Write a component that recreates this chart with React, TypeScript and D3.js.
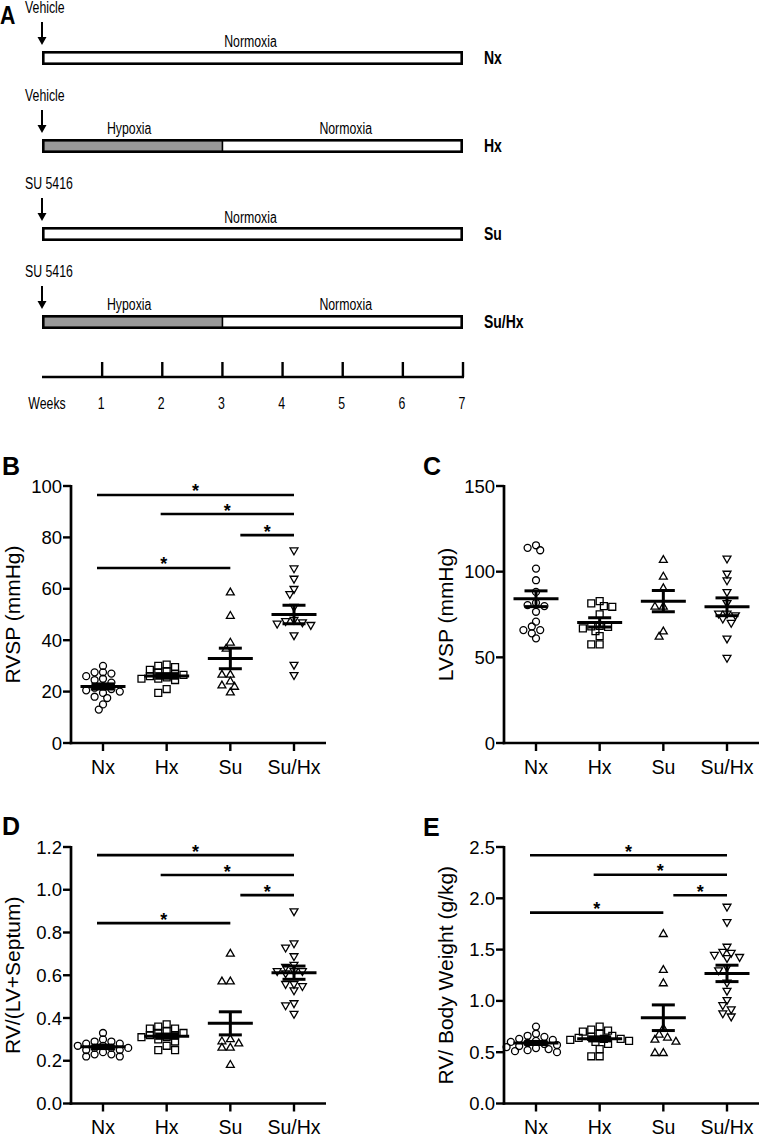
import React from "react";
import * as d3 from "d3";

const FONT = "'Liberation Sans', Arial, Helvetica, sans-serif";

// ---------------- Panel A: protocol ----------------
const totalWeeks = 7;
const weekTicks = [1, 2, 3, 4, 5, 6, 7];
const protocolTreatments = ["Vehicle", "Vehicle", "SU 5416", "SU 5416"];
const protocolGroups = ["Nx", "Hx", "Su", "Su/Hx"];
const protocolHypoxiaWeeks = [0, 3, 0, 3];

// ---------------- Scatter panels ----------------
const groups = ["Nx", "Hx", "Su", "Su/Hx"];

// B: RVSP (mmHg)
const rvspNx = [30, 27.5, 27, 27.5, 26, 25, 24.5, 23.5, 22, 21.5, 21, 20, 19.5, 18, 17.5, 15, 13, 20.5];
const rvspHx = [30.5, 30, 29.5, 28.5, 28, 27.5, 27, 26.5, 26, 25.5, 25, 25, 24.5, 21, 19.5];
const rvspSu = [58.5, 49.4, 39, 36.6, 26.5, 26.5, 23.9, 22.3, 21.8, 19.6];
const rvspSuHx = [75, 68, 64, 60, 58, 53, 48, 47.5, 46.5, 46, 47, 42, 30.5, 26.5];
const rvspMean = [22.0, 26.1, 32.9, 50.0];
const rvspSem = [1.0, 0.9, 4.0, 3.6];
const rvspTicks = [0, 20, 40, 60, 80, 100];
const rvspSig = [[0, 3, 96.5], [1, 3, 89.1], [2, 3, 80.9], [0, 2, 68.1]];

// C: LVSP (mmHg)
const lvspNx = [113.9, 112.5, 115.4, 101.8, 95, 88.2, 80.5, 79.9, 81.8, 76.6, 70.8, 65.9, 68, 64, 65.9, 61.1];
const lvspHx = [82.8, 81.5, 79.9, 79.5, 75.1, 68.3, 68, 66.9, 65.3, 67.8, 62.4, 57.6, 57.6];
const lvspSu = [106.7, 97, 90.2, 79.5, 79.5, 62, 65];
const lvspSuHx = [107.7, 98.9, 95, 88.2, 81.8, 75.6, 74.6, 75.6, 70.2, 72.7, 61.1, 49.8];
const lvspMean = [84.2, 70.4, 82.8, 79.5];
const lvspSem = [4.6, 2.7, 6.2, 5.2];
const lvspTicks = [0, 50, 100, 150];
const lvspSig: number[][] = [];

// D: RV/(LV+Septum)
const fultonNx = [0.33, 0.30, 0.29, 0.29, 0.28, 0.28, 0.27, 0.27, 0.26, 0.26, 0.26, 0.25, 0.25, 0.24, 0.23, 0.23, 0.22, 0.22];
const fultonHx = [0.37, 0.36, 0.35, 0.35, 0.34, 0.33, 0.33, 0.32, 0.32, 0.31, 0.31, 0.30, 0.29, 0.27, 0.25, 0.25];
const fultonSu = [0.70, 0.57, 0.57, 0.30, 0.29, 0.28, 0.26, 0.26, 0.18];
const fultonSuHx = [0.90, 0.75, 0.73, 0.69, 0.65, 0.64, 0.62, 0.62, 0.62, 0.61, 0.56, 0.56, 0.55, 0.53, 0.47, 0.46, 0.42];
const fultonMean = [0.265, 0.315, 0.375, 0.612];
const fultonSem = [0.008, 0.01, 0.054, 0.031];
const fultonTicks = [0, 0.2, 0.4, 0.6, 0.8, 1.0, 1.2];
const fultonSig = [[0, 3, 1.162], [1, 3, 1.069], [2, 3, 0.975], [0, 2, 0.844]];

// E: RV / Body Weight (g/kg)
const rvbwNx = [0.75, 0.68, 0.66, 0.65, 0.63, 0.62, 0.61, 0.60, 0.59, 0.58, 0.57, 0.56, 0.55, 0.54, 0.53, 0.52, 0.51, 0.50];
const rvbwHx = [0.75, 0.72, 0.71, 0.70, 0.68, 0.66, 0.65, 0.64, 0.63, 0.63, 0.62, 0.61, 0.60, 0.58, 0.53, 0.46, 0.46];
const rvbwSu = [1.65, 1.30, 1.17, 0.73, 0.67, 0.64, 0.62, 0.60, 0.49, 0.49];
const rvbwSuHx = [1.92, 1.77, 1.53, 1.48, 1.47, 1.45, 1.43, 1.42, 1.33, 1.30, 1.18, 1.10, 1.01, 0.96, 0.92, 0.88, 0.85];
const rvbwMean = [0.59, 0.63, 0.836, 1.268];
const rvbwSem = [0.015, 0.02, 0.125, 0.08];
const rvbwTicks = [0, 0.5, 1.0, 1.5, 2.0, 2.5];
const rvbwSig = [[0, 3, 2.42], [1, 3, 2.23], [2, 3, 2.03], [0, 2, 1.86]];

// ---------------- helpers ----------------
function Narrow({ x, y, children, size = 16, weight = "normal", anchor = "start", sx = 0.77 }: any) {
  return (
    <text
      transform={`translate(${x},${y}) scale(${sx},1)`}
      fontSize={size}
      fontWeight={weight}
      textAnchor={anchor}
      dominantBaseline="central"
      fontFamily={FONT}
      fill="#000"
    >
      {children}
    </text>
  );
}

function ProtocolPanel() {
  const xW = d3.scaleLinear().domain([0, totalWeeks]).range([42, 463]);
  const rowY = (i: number) => 51 + 88 * i;
  const barH = 14;
  const sw = 2.6;
  return (
    <g>
      <Narrow x={0} y={15} size={26} weight="bold" sx={0.82}>A</Narrow>
      {protocolGroups.map((g, i) => {
        const top = rowY(i);
        const hyp = protocolHypoxiaWeeks[i];
        const ax = xW(0);
        return (
          <g key={g}>
            <Narrow x={25} y={top - 43.5}>{protocolTreatments[i]}</Narrow>
            <line x1={ax} x2={ax} y1={top - 29} y2={top - 13} stroke="#000" strokeWidth={2} />
            <path d={`M${ax - 4.5},${top - 14}L${ax + 4.5},${top - 14}L${ax},${top - 6}Z`} fill="#000" />
            {hyp > 0 && (
              <rect x={xW(0)} y={top + sw / 2} width={xW(hyp) - xW(0)} height={barH - sw} fill="#999" />
            )}
            <rect
              x={xW(0) + sw / 2}
              y={top + sw / 2}
              width={xW(totalWeeks) - xW(0) - sw}
              height={barH - sw}
              fill="none"
              stroke="#000"
              strokeWidth={sw}
            />
            {hyp > 0 && (
              <line x1={xW(hyp)} x2={xW(hyp)} y1={top + 1} y2={top + barH - 1} stroke="#000" strokeWidth={1.6} />
            )}
            {hyp > 0 ? (
              <>
                <Narrow x={(xW(0) + xW(hyp)) / 2 - 3} y={top - 11} anchor="middle">Hypoxia</Narrow>
                <Narrow x={(xW(hyp) + xW(totalWeeks)) / 2 + 3} y={top - 11} anchor="middle">Normoxia</Narrow>
              </>
            ) : (
              <Narrow x={(xW(0) + xW(totalWeeks)) / 2 - 2} y={top - 10} anchor="middle">Normoxia</Narrow>
            )}
            <Narrow x={484} y={top + 7} size={17.5} weight="bold" sx={0.8}>{g}</Narrow>
          </g>
        );
      })}
      <line x1={xW(0)} x2={xW(totalWeeks) + 1} y1={377} y2={377} stroke="#000" strokeWidth={2.6} />
      {weekTicks.map((w) => (
        <g key={w}>
          <line x1={xW(w)} x2={xW(w)} y1={362} y2={377} stroke="#000" strokeWidth={2.4} />
          <Narrow x={xW(w) - 1} y={403} anchor="middle">{w}</Narrow>
        </g>
      ))}
      <Narrow x={47} y={403} anchor="middle">Weeks</Narrow>
    </g>
  );
}

const symbolPaths = [
  d3.symbol(d3.symbolCircle, 38)() as string,
  d3.symbol(d3.symbolSquare, 48)() as string,
  d3.symbol(d3.symbolTriangle, 27)() as string,
  d3.symbol(d3.symbolTriangle, 27)() as string,
];

function swarm(values: number[], cx: number, y: (v: number) => number) {
  const step = 4.2;
  const minDist = 6.2;
  const placed: { x: number; y: number }[] = [];
  const order = [...values].sort((a, b) => b - a);
  for (const v of order) {
    const py = y(v);
    for (let k = 0; k < 60; k++) {
      const off = (k % 2 === 0 ? 1 : -1) * Math.ceil(k / 2) * step;
      const px = cx + off;
      const ok = placed.every((p) => Math.hypot(p.x - px, p.y - py) >= minDist);
      if (ok) {
        placed.push({ x: px, y: py });
        break;
      }
    }
  }
  return placed;
}

function Scatter({ x0, y0, yTop, ticks, fmt, title, letter, letterX, letterY, series, means, sems, sig }: any) {
  const max = ticks[ticks.length - 1];
  const y = d3.scaleLinear().domain([0, max]).range([y0, yTop]);
  const x = d3.scalePoint<string>().domain(groups).range([x0 + 32, x0 + 223]);
  const xEnd = x0 + 255;
  const f = d3.format(fmt);
  return (
    <g fontFamily={FONT}>
      <text x={letterX} y={letterY} fontSize={25} fontWeight="bold">{letter}</text>
      <text
        transform={`translate(${x0 - 59},${(y0 + yTop) / 2}) rotate(-90)`}
        fontSize={21}
        textAnchor="middle"
        dominantBaseline="central"
      >
        {title}
      </text>
      {/* axes */}
      <line x1={x0} x2={x0} y1={yTop - 1} y2={y0 + 1.3} stroke="#000" strokeWidth={2.7} />
      <line x1={x0 - 1.3} x2={xEnd} y1={y0} y2={y0} stroke="#000" strokeWidth={2.7} />
      {ticks.map((t: number) => (
        <g key={t}>
          <line x1={x0 - 8} x2={x0} y1={y(t)} y2={y(t)} stroke="#000" strokeWidth={2.4} />
          <text x={x0 - 9} y={y(t)} fontSize={18.5} textAnchor="end" dominantBaseline="central">
            {f(t)}
          </text>
        </g>
      ))}
      {groups.map((g) => (
        <g key={g}>
          <line x1={x(g)} x2={x(g)} y1={y0} y2={y0 + 8} stroke="#000" strokeWidth={2.4} />
          <text x={x(g)} y={y0 + 30.5} fontSize={19.5} textAnchor="middle">{g}</text>
        </g>
      ))}
      {/* points */}
      {series.map((vals: number[], gi: number) =>
        swarm(vals, x(groups[gi]) as number, y).map((p, i) => (
          <path
            key={gi + "-" + i}
            d={symbolPaths[gi]}
            transform={`translate(${p.x},${p.y})${gi === 3 ? " rotate(180)" : ""}`}
            fill="none"
            stroke="#000"
            strokeWidth={1.3}
          />
        ))
      )}
      {/* mean +/- SEM */}
      {means.map((m: number, gi: number) => {
        const cx = x(groups[gi]) as number;
        const s = sems[gi];
        return (
          <g key={gi} stroke="#000" strokeWidth={3}>
            <line x1={cx - 22.5} x2={cx + 22.5} y1={y(m)} y2={y(m)} />
            <line x1={cx - 11.5} x2={cx + 11.5} y1={y(m + s)} y2={y(m + s)} />
            <line x1={cx - 11.5} x2={cx + 11.5} y1={y(m - s)} y2={y(m - s)} />
            <line x1={cx} x2={cx} y1={y(m + s)} y2={y(m - s)} />
          </g>
        );
      })}
      {/* significance bars */}
      {sig.map(([a, b, lv]: number[], i: number) => {
        const xa = (x(groups[a]) as number) + (b - a === 1 ? 10 : -6);
        const xb = x(groups[b]) as number;
        const yy = y(lv);
        return (
          <g key={i}>
            <line x1={xa} x2={xb} y1={yy} y2={yy} stroke="#000" strokeWidth={2.6} />
            <text x={(xa + xb) / 2} y={yy + 2.5} fontSize={18} fontWeight="bold" textAnchor="middle">*</text>
          </g>
        );
      })}
    </g>
  );
}

export default function App() {
  return (
    <svg
      width={762}
      height={1137}
      viewBox="0 0 762 1137"
      style={{ position: "absolute", left: 0, top: 0, background: "#fff", display: "block" }}
    >
      <rect x={0} y={0} width={762} height={1137} fill="#fff" />
      <ProtocolPanel />
      <Scatter
        x0={71} y0={743} yTop={486} ticks={rvspTicks} fmt="d" title="RVSP (mmHg)"
        letter="B" letterX={2} letterY={475}
        series={[rvspNx, rvspHx, rvspSu, rvspSuHx]} means={rvspMean} sems={rvspSem} sig={rvspSig}
      />
      <Scatter
        x0={504} y0={743} yTop={486} ticks={lvspTicks} fmt="d" title="LVSP (mmHg)"
        letter="C" letterX={423} letterY={475}
        series={[lvspNx, lvspHx, lvspSu, lvspSuHx]} means={lvspMean} sems={lvspSem} sig={lvspSig}
      />
      <Scatter
        x0={71} y0={1103.5} yTop={847} ticks={fultonTicks} fmt=".1f" title="RV/(LV+Septum)"
        letter="D" letterX={2} letterY={835}
        series={[fultonNx, fultonHx, fultonSu, fultonSuHx]} means={fultonMean} sems={fultonSem} sig={fultonSig}
      />
      <Scatter
        x0={504} y0={1103.5} yTop={847} ticks={rvbwTicks} fmt=".1f" title="RV/ Body Weight (g/kg)"
        letter="E" letterX={423} letterY={836}
        series={[rvbwNx, rvbwHx, rvbwSu, rvbwSuHx]} means={rvbwMean} sems={rvbwSem} sig={rvbwSig}
      />
    </svg>
  );
}
